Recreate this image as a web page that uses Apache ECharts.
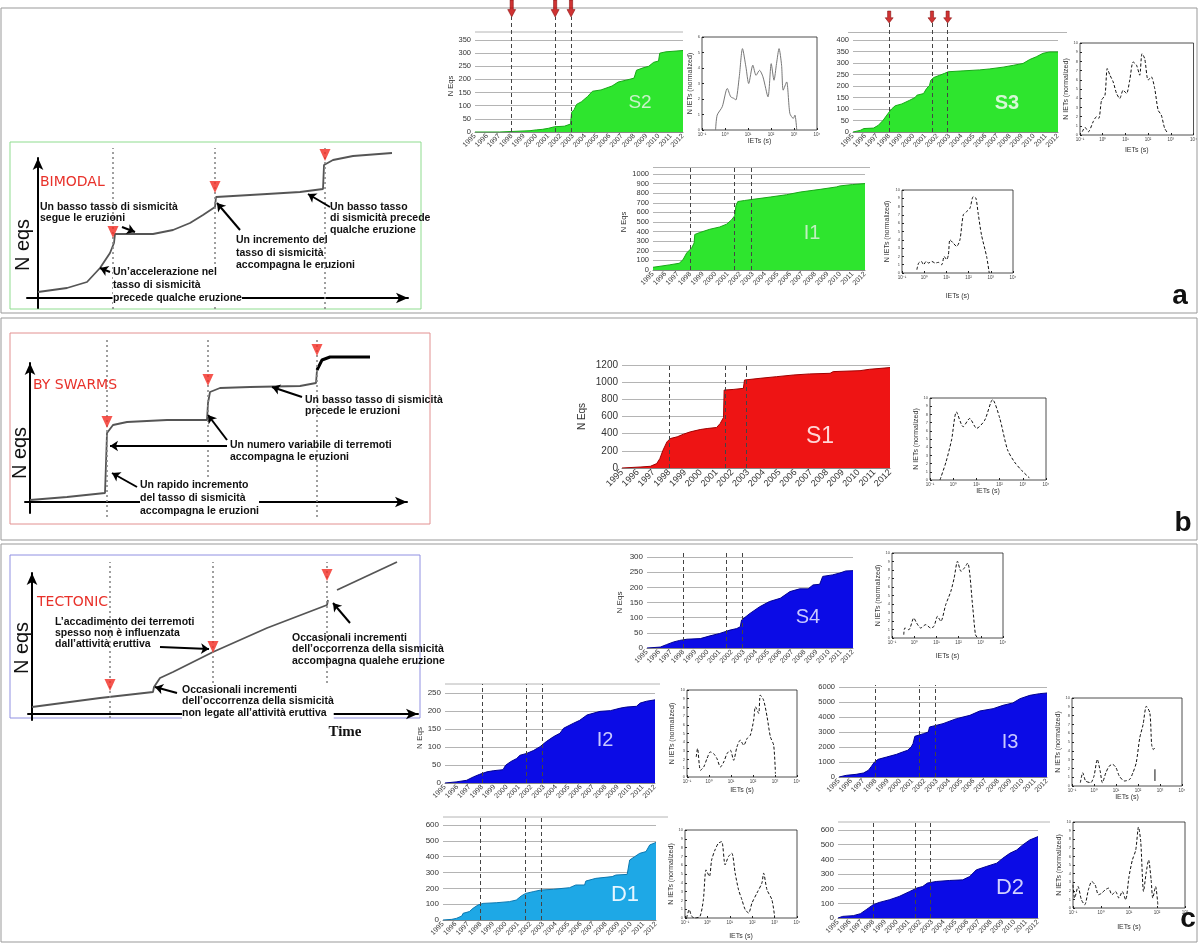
<!DOCTYPE html>
<html><head><meta charset="utf-8">
<script src="https://cdn.jsdelivr.net/npm/echarts@6/dist/echarts.min.js"></script>
<style>html,body{margin:0;padding:0;background:#fff}#c{width:1200px;height:943px}</style>
</head><body><div id="c"></div>
<script>
// ---------------- DATA ----------------
const ERUPTIONS = [1998.0, 2001.55, 2002.85];
const YEAR_MIN = 1995, YEAR_MAX = 2012;

const S2_CUM = [[1995,0],[1997,0],[1997.05,3],[1999.5,5],[2000,8],[2000.5,10],[2001,14],[2001.5,20],[2002.3,22],[2002.8,30],[2002.9,75],[2003.1,85],[2003.3,105],[2003.7,115],[2004.2,135],[2004.6,155],[2005.3,160],[2006.2,175],[2006.7,190],[2007.6,200],[2008,205],[2008.2,235],[2008.8,245],[2009.2,250],[2009.6,265],[2010,270],[2010.1,300],[2010.6,305],[2012,310]];
const S3_CUM = [[1995,0],[1995.6,7],[1995.9,15],[1996.7,17],[1997.1,29],[1997.5,51],[1997.9,80],[1998.2,100],[1998.5,114],[1999.05,122],[1999.7,138],[2000.15,150],[2000.3,160],[2000.85,167],[2001.1,189],[2001.35,203],[2001.45,225],[2001.7,237],[2002.2,247],[2002.6,255],[2002.9,262],[2004.2,266],[2005.5,270],[2006.3,274],[2007.45,282],[2008.3,290],[2009.1,298],[2009.65,315],[2010.2,327],[2010.75,342],[2011.3,348],[2012,348]];
const I1_CUM = [[1995,28],[1996.3,53],[1997.1,70],[1997.4,106],[1997.7,177],[1998.1,230],[1998.3,282],[1998.35,370],[1998.7,388],[1999.55,424],[2000.35,448],[2000.9,477],[2001.3,522],[2001.55,565],[2001.65,670],[2001.8,713],[2002.35,724],[2002.9,734],[2003.0,748],[2004.4,760],[2005.7,784],[2006.8,812],[2008.4,840],[2009.7,865],[2010,876],[2011,890],[2012,900]];
const S1_CUM = [[1995,0],[1996.2,12],[1996.8,20],[1997.2,51],[1997.4,109],[1997.6,207],[1997.85,304],[1998.06,343],[1998.5,363],[1998.9,394],[1999.33,421],[1999.96,448],[2000.4,460],[2001.0,472],[2001.23,519],[2001.44,589],[2001.48,908],[2002.1,916],[2002.7,928],[2002.77,1025],[2003.76,1045],[2004.8,1064],[2005.9,1084],[2006.9,1096],[2008.2,1103],[2008.4,1123],[2010.1,1134],[2010.7,1150],[2012,1170]];
const S4_CUM = [[1995,0],[1996.1,3],[1996.6,11],[1997.2,20],[1997.7,25],[1998.3,29],[1999.4,31],[2000.2,40],[2001.0,48],[2001.85,59],[2002.4,64],[2002.7,70],[2002.8,92],[2003.5,114],[2004.3,136],[2005.1,153],[2006.0,164],[2006.8,186],[2007.6,195],[2008.3,195],[2008.7,208],[2009.25,210],[2009.5,236],[2010.3,241],[2010.9,247],[2011.4,254],[2012,255]];
const I2_CUM = [[1995,0],[1995.9,3],[1996.75,7.5],[1997.3,17],[1997.8,24],[1998.4,31],[1998.9,34],[1999.7,37],[1999.9,49],[2000.3,59],[2000.8,68],[2001.07,77],[2001.6,82],[2002.15,90],[2002.7,101],[2003.2,115],[2003.8,129],[2004.3,138],[2004.6,152],[2005.4,166],[2005.9,174],[2006.5,189],[2007.55,199],[2008.4,201],[2009.2,208],[2009.7,211],[2010.5,213],[2010.8,222],[2011.3,227],[2012,231]];
const I3_CUM = [[1995,0],[1995.6,111],[1996.4,178],[1997,267],[1997.4,444],[1997.65,711],[1997.9,1000],[1998.2,1178],[1998.9,1333],[1999.7,1511],[2000.2,1667],[2000.6,1778],[2000.9,2000],[2001.05,2222],[2001.2,2711],[2001.9,2889],[2002.3,3000],[2002.4,3333],[2003.5,3556],[2004.6,3889],[2005.7,4111],[2006.5,4400],[2007.6,4556],[2008.4,4778],[2009.2,4933],[2009.8,5222],[2010.6,5444],[2011.4,5556],[2012,5600]];
const D1_CUM = [[1995,0],[1995.7,4],[1996.06,10],[1996.5,25],[1996.6,42],[1997.1,53],[1997.4,74],[1997.8,95],[1998.2,105],[1999.25,109],[2000.3,116],[2000.85,126],[2001.25,152],[2001.6,168],[2002.2,179],[2002.8,189],[2003.8,194],[2005.1,204],[2005.6,221],[2006.3,221],[2006.4,246],[2007.2,263],[2008.5,274],[2008.8,284],[2009.7,288],[2009.9,379],[2010.3,400],[2010.7,421],[2011.2,432],[2011.5,474],[2012,490]];
const D2_CUM = [[1995,0],[1995.4,11],[1996.3,16],[1996.9,29],[1997.4,57],[1998.0,91],[1998.5,106],[1999.4,125],[2000.2,147],[2001.1,181],[2001.7,204],[2002.2,215],[2002.6,238],[2003.35,249],[2004.5,256],[2005.6,260],[2006.2,283],[2006.75,328],[2007.6,351],[2008.5,374],[2009.0,407],[2009.6,441],[2010.2,464],[2010.7,498],[2011.3,532],[2012,555]];

// IET distributions: [log10 decade index, normalized count]
const S2_IET = [[0.59,0],[0.66,0.96],[0.88,1.5],[1.10,2.68],[1.25,2.14],[1.40,2.03],[1.47,1.93],[1.62,3.43],[1.76,5.25],[1.91,4.07],[2.03,3.0],[2.21,4.18],[2.35,3.53],[2.50,3.85],[2.65,3.43],[2.87,2.14],[3.01,4.28],[3.13,3.21],[3.24,4.28],[3.35,5.25],[3.46,4.18],[3.53,2.57],[3.68,3.1],[3.82,1.07],[3.97,0.75],[4.04,0.96],[4.12,0]];
const S3_IET = [[0.10,0.36],[0.22,0.83],[0.37,0.36],[0.58,1.44],[0.73,1.99],[0.83,1.81],[0.95,3.79],[1.10,4.33],[1.20,7.22],[1.32,6.50],[1.46,5.78],[1.61,4.51],[1.75,3.97],[1.90,4.87],[2.05,4.51],[2.19,5.96],[2.34,7.94],[2.49,7.58],[2.63,6.50],[2.73,8.84],[2.85,8.30],[3.00,5.96],[3.14,6.32],[3.29,5.05],[3.44,2.71],[3.58,2.17],[3.73,0.72],[3.87,0.18]];
const I1_IET = [[0.67,0.4],[0.75,1.2],[0.87,1.4],[0.97,1.0],[1.09,1.4],[1.19,1.2],[1.34,1.4],[1.49,1.2],[1.64,1.28],[1.79,1.0],[1.90,2.0],[2.01,1.6],[2.09,2.2],[2.16,4.0],[2.31,3.6],[2.46,3.2],[2.61,4.0],[2.76,7.0],[2.91,7.4],[3.06,7.8],[3.21,9.2],[3.33,9.0],[3.43,7.2],[3.58,4.6],[3.81,2.0],[3.93,0]];
const S1_IET = [[0.43,0],[0.69,2.2],[0.93,4.9],[1.14,8.3],[1.43,6.5],[1.71,7.5],[2.01,6.3],[2.36,7.3],[2.70,9.8],[3.0,7.6],[3.34,3.7],[3.64,2.2],[3.94,1.2],[4.29,0.24]];
const S4_IET = [[0.53,0.39],[0.58,1.18],[0.76,0.98],[0.98,2.35],[1.11,1.76],[1.29,1.18],[1.52,1.57],[1.74,1.18],[1.89,1.37],[2.05,2.55],[2.20,1.96],[2.42,3.92],[2.65,5.49],[2.80,7.06],[2.95,9.02],[3.11,7.84],[3.26,8.24],[3.41,8.82],[3.64,3.53],[3.76,0.39],[3.86,0]];
const I2_IET = [[0.42,2.31],[0.48,3.27],[0.61,0.77],[0.76,1.15],[0.91,2.12],[1.06,2.88],[1.21,2.69],[1.36,2.12],[1.52,1.15],[1.67,1.73],[1.82,2.69],[1.97,3.08],[2.12,1.92],[2.27,3.46],[2.42,4.23],[2.58,3.65],[2.73,4.42],[2.88,4.81],[3.03,6.54],[3.11,8.08],[3.26,7.31],[3.33,9.42],[3.48,8.85],[3.64,6.92],[3.79,4.62],[3.94,3.65],[4.02,0.38]];
const I3_IET = [[0.38,0.38],[0.49,1.51],[0.62,0.57],[0.85,0.38],[1.0,1.13],[1.15,3.02],[1.28,1.70],[1.38,0.38],[1.54,1.51],[1.69,2.26],[1.85,2.45],[2.0,2.08],[2.15,1.13],[2.38,0.57],[2.62,0.75],[2.77,1.51],[2.92,2.64],[3.08,5.47],[3.23,6.98],[3.38,9.06],[3.54,8.30],[3.62,4.72],[3.69,4.15],[3.77,4.34]];
const I3_IET_TAIL = [[3.77,1.9],[3.77,0.57]];
const D1_IET = [[0.07,0],[0.19,0.94],[0.30,0.19],[0.45,0],[0.67,0.19],[0.82,2.08],[0.94,5.47],[1.09,4.72],[1.19,6.60],[1.34,7.74],[1.49,8.49],[1.64,8.68],[1.79,6.04],[1.94,6.98],[2.09,7.36],[2.24,5.09],[2.39,3.21],[2.54,2.08],[2.69,0.94],[2.84,0.57],[2.99,1.70],[3.21,2.83],[3.43,3.96],[3.51,5.09],[3.66,3.21],[3.88,2.08],[4.0,0.19]];
const D2_IET = [[0,2.69],[0.06,1.15],[0.18,2.5],[0.30,0.96],[0.42,0.38],[0.55,2.12],[0.67,3.08],[0.79,2.69],[0.91,1.54],[1.03,1.73],[1.15,2.12],[1.27,2.31],[1.39,1.54],[1.52,1.92],[1.64,1.15],[1.76,1.92],[1.88,0.96],[2.0,3.65],[2.12,5.58],[2.24,6.73],[2.34,9.42],[2.42,7.69],[2.52,1.92],[2.61,4.04],[2.70,5.58],[2.79,3.27],[2.85,1.15],[2.95,2.5],[3.03,0.38]];

// Schematic curves (arbitrary time / N eqs units)
const BIMODAL_CURVE = [[0,6],[29,10],[49,16],[62,30],[72,45],[76,55],[77,64],[95,64],[115,64],[135,68],[152,75],[165,83],[177,91],[178,101],[195,102],[229,104],[262,106],[285,109],[286,133],[295,138],[315,142],[354,145]];
const BIMODAL_ERUPTIONS = [75,177,287];
const BIMODAL_MARKS = [[75,66],[177,111],[287,143]];
const BIMODAL_POINTERS = [[[84,71],[97,66]],[[72,26],[62,30]],[[202,68],[179,95]],[[292,91],[270,104]]];

const SWARMS_CURVE = [[0,2],[37,5],[75,9],[76,39],[77,69],[83,77],[97,80],[137,82],[177,82],[178,99],[180,110],[190,114],[220,115],[270,116],[286,119],[287,132],[292,142],[300,145],[340,145]];
const SWARMS_ERUPTIONS = [77,178,287];
const SWARMS_MARKS = [[77,80],[178,122],[287,152]];
const SWARMS_POINTERS = [[[272,105],[242,115]],[[197,56],[80,56]],[[197,62],[178,87]],[[107,15],[82,29]]];

const TECTONIC_CURVE = [[0,7],[68,16],[121,22],[122,27],[128,36],[141,42],[181,62],[235,86],[295,109],[296,114]];
const TECTONIC_CURVE_END = [[305,124],[365,152]];
const TECTONIC_ERUPTIONS = [78,181,295];
const TECTONIC_MARKS = [[78,29],[181,67],[295,139]];
const TECTONIC_POINTERS = [[[128,67],[177,65]],[[318,91],[301,111]],[[145,21],[123,27]]];

// ---------------- BUILD ----------------
const FONT = '"Liberation Sans", Arial, sans-serif';
const GREEN = '#2ee52e', RED = '#ee1414', BLUE = '#0b0be6', SKY = '#1ea8e6';
const SUP = ['\u207B\u00B9','\u2070','\u00B9','\u00B2','\u00B3','\u2074','\u2075'];
const ARROW_PATH = 'path://M3,0L7,0L7,9L10,9L5,16L0,9L3,9Z';

const grid=[], xAxis=[], yAxis=[], series=[], graphic=[];

function mainChart(c){
  const gi = grid.length;
  const [L,T,W,H] = c.box;
  grid.push({left:L, top:T, width:W, height:H});
  xAxis.push({gridIndex:gi, type:'value', min:YEAR_MIN, max:YEAR_MAX, interval:1,
    axisLine:{show:true, lineStyle:{color:'#888'}}, axisTick:{show:false}, splitLine:{show:false},
    axisLabel:{rotate:45, fontSize:c.xfs, color:'#333', margin:3, fontFamily:FONT, formatter:v=>String(v)}});
  yAxis.push({gridIndex:gi, type:'value', min:0, max:c.yMax, interval:c.yStep,
    axisLine:{show:false}, axisTick:{show:false},
    splitLine:{lineStyle:{color:'#b4b4b4', width:1}},
    axisLabel:{fontSize:c.yfs, color:'#333', margin:4, fontFamily:FONT, formatter:v=>String(v)},
    name:c.yName||'', nameLocation:'middle', nameGap:c.nameGap||20,
    nameTextStyle:{fontSize:c.yfs, color:'#333', fontFamily:FONT}});
  series.push({type:'line', xAxisIndex:gi, yAxisIndex:gi, data:c.data, symbol:'none', silent:true,
    lineStyle:{color:c.edge, width:1}, areaStyle:{color:c.color, opacity:1}, z:3, animation:false});
  const oi = grid.length;
  const bottom = T+H;
  const as = c.arrow || [0,0];
  grid.push({left:L, top:c.dashTop, width:W, height:bottom-c.dashTop});
  xAxis.push({gridIndex:oi, type:'value', min:YEAR_MIN, max:YEAR_MAX, show:false});
  yAxis.push({gridIndex:oi, type:'value', min:0, max:1, show:false});
  series.push({type:'scatter', xAxisIndex:oi, yAxisIndex:oi, data:ERUPTIONS.map(e=>[e,1]),
    symbol:ARROW_PATH, symbolSize:as, symbolOffset:[0,-as[1]/2], clip:false, silent:true,
    itemStyle:{color:'#c40000', borderColor:'#7a0000', borderWidth:0.6}, z:6, animation:false,
    markLine:{silent:true, symbol:['none','none'], label:{show:false}, animation:false,
      lineStyle:{type:[4,3], color:'#444', width:1}, data:ERUPTIONS.map(e=>({xAxis:e}))}});
  if (c.frame) graphic.push({type:'line', z:1, shape:{x1:c.frame[0], y1:c.frame[2], x2:c.frame[1], y2:c.frame[2]}, style:{stroke:'#b4b4b4', lineWidth:1}});
  graphic.push({type:'text', z:10, x:c.tx, y:c.ty, style:{text:c.label, fill:c.tc, align:'center', verticalAlign:'middle',
    font:(c.bold?'bold ':'')+c.tfs+'px '+FONT}});
}

function inset(c){
  const gi = grid.length;
  const [L,T,W,H] = c.box;
  grid.push({left:L, top:T, width:W, height:H, show:true, borderColor:'#222', borderWidth:0.8, backgroundColor:'#fff'});
  xAxis.push({gridIndex:gi, type:'value', min:0, max:c.xMax, interval:1,
    axisLine:{show:false}, axisTick:{inside:true, length:2, lineStyle:{color:'#222'}}, splitLine:{show:false},
    axisLabel:{fontSize:4.5, color:'#444', margin:2, fontFamily:FONT, formatter:v=>'10'+(SUP[v]||'')},
    name:'IETs (s)', nameLocation:'middle', nameGap:c.xg, nameTextStyle:{fontSize:7, color:'#333', fontFamily:FONT}});
  yAxis.push({gridIndex:gi, type:'value', min:0, max:c.yMax, interval:1,
    axisLine:{show:false}, axisTick:{inside:true, length:2, lineStyle:{color:'#222'}}, splitLine:{show:false},
    axisLabel:{fontSize:4, color:'#444', margin:2, fontFamily:FONT},
    name:'N IETs (normalized)', nameLocation:'middle', nameGap:c.yg, nameTextStyle:{fontSize:7, color:'#333', fontFamily:FONT}});
  series.push({type:'line', xAxisIndex:gi, yAxisIndex:gi, data:c.data, symbol:'none', smooth:0.25, silent:true, animation:false,
    lineStyle:{color:c.solid?'#777':'#111', width:1, type:c.solid?'solid':[3,2]}, z:4});
  if (c.tail) series.push({type:'line', xAxisIndex:gi, yAxisIndex:gi, data:c.tail, symbol:'none', silent:true, animation:false,
    lineStyle:{color:'#111', width:1}, z:4});
}

function schematic(s){
  const gi = grid.length;
  const [L,T,W,H] = s.box;
  grid.push({left:L, top:T, width:W, height:H});
  const axisLine = {show:true, onZero:true, symbol:['none','arrow'], symbolSize:[8,12], lineStyle:{color:'#000', width:2}};
  xAxis.push({gridIndex:gi, type:'value', min:s.xr[0], max:s.xr[1], axisLine:axisLine, axisLabel:{show:false}, axisTick:{show:false}, splitLine:{show:false}});
  yAxis.push({gridIndex:gi, type:'value', min:s.yr[0], max:s.yr[1], axisLine:axisLine, axisLabel:{show:false}, axisTick:{show:false}, splitLine:{show:false}});
  s.curves.forEach(cv=>series.push({type:'line', xAxisIndex:gi, yAxisIndex:gi, data:cv.data, symbol:'none', clip:false, silent:true, animation:false,
    lineStyle:{color:cv.color||'#555', width:cv.width||1.8}, z:4}));
  series.push({type:'scatter', xAxisIndex:gi, yAxisIndex:gi, data:s.marks, symbol:'triangle', symbolRotate:180, symbolSize:[11,12],
    itemStyle:{color:'#f22a22'}, clip:false, silent:true, z:5, animation:false});
  series.push({type:'lines', coordinateSystem:'cartesian2d', xAxisIndex:gi, yAxisIndex:gi, silent:true, animation:false,
    data:s.pointers.map(p=>({coords:p})), symbol:['none','arrow'], symbolSize:8, lineStyle:{color:'#000', width:2, opacity:1}, z:6});
  const oi = grid.length;
  grid.push({left:L, top:s.dot[0], width:W, height:s.dot[1]-s.dot[0]});
  xAxis.push({gridIndex:oi, type:'value', min:s.xr[0], max:s.xr[1], show:false});
  yAxis.push({gridIndex:oi, type:'value', min:0, max:1, show:false});
  series.push({type:'scatter', xAxisIndex:oi, yAxisIndex:oi, data:s.eruptions.map(e=>[e,0]), symbolSize:0, silent:true, animation:false,
    markLine:{silent:true, symbol:['none','none'], label:{show:false}, animation:false,
      lineStyle:{type:[2,3], color:'#888', width:1.6}, data:s.eruptions.map(e=>({xAxis:e}))}});
}

// Panel frames
[[1,8,1196,305],[1,318,1196,222],[1,544,1196,398]].forEach(r=>graphic.push({type:'rect', z:0, shape:{x:r[0],y:r[1],width:r[2],height:r[3]}, style:{fill:'none', stroke:'#999', lineWidth:1}}));
[[10,142,411,167,'#8fdc8f'],[10,333,420,191,'#e29090'],[10,555,410,163,'#9090e2']].forEach(r=>graphic.push({type:'rect', z:0, shape:{x:r[0],y:r[1],width:r[2],height:r[3]}, style:{fill:'none', stroke:r[4], lineWidth:1}}));

// Main cumulative charts
mainChart({data:S2_CUM, color:GREEN, edge:'#18a818', box:[475,40,208,92], yMax:350, yStep:50, xfs:7, yfs:7.5, yName:'N Eqs', nameGap:19, dashTop:17, arrow:[8,17], frame:[475,683,32], label:'S2', tx:640, ty:103, tfs:19, tc:'#c8f3c8'});
mainChart({data:S3_CUM, color:GREEN, edge:'#18a818', box:[853,40,205,92], yMax:400, yStep:50, xfs:7, yfs:7.5, dashTop:23, arrow:[8,12], frame:[848,1067,32.5], label:'S3', tx:1007, ty:103, tfs:20, bold:true, tc:'#d6f8d6'});
mainChart({data:I1_CUM, color:GREEN, edge:'#18a818', box:[653,174,212,96], yMax:1000, yStep:100, xfs:7, yfs:7.5, yName:'N Eqs', nameGap:19, dashTop:168, frame:[653,870,167.5], label:'I1', tx:812, ty:233, tfs:20, tc:'#c0f0c0'});
mainChart({data:S1_CUM, color:RED, edge:'#a00000', box:[622,365,268,103], yMax:1200, yStep:200, xfs:9, yfs:10, yName:'N Eqs', nameGap:35, dashTop:363, label:'S1', tx:820, ty:437, tfs:23, tc:'#ffd6d6'});
mainChart({data:S4_CUM, color:BLUE, edge:'#000090', box:[647,557,206,91], yMax:300, yStep:50, xfs:7, yfs:8, yName:'N Eqs', nameGap:23, dashTop:550, label:'S4', tx:808, ty:617, tfs:20, tc:'#c8c8ff'});
mainChart({data:I2_CUM, color:BLUE, edge:'#000090', box:[445,693,210,90], yMax:250, yStep:50, xfs:7, yfs:8, yName:'N Eqs', nameGap:14, dashTop:684, frame:[445,660,684], label:'I2', tx:605, ty:740, tfs:20, tc:'#c8c8ff'});
mainChart({data:I3_CUM, color:BLUE, edge:'#000090', box:[839,687,208,90], yMax:6000, yStep:1000, xfs:7, yfs:7.5, dashTop:685, label:'I3', tx:1010, ty:742, tfs:20, tc:'#c8c8ff'});
mainChart({data:D1_CUM, color:SKY, edge:'#0c78b0', box:[443,825,213,95], yMax:600, yStep:100, xfs:7, yfs:8, dashTop:817, frame:[443,668,817], label:'D1', tx:625, ty:895, tfs:22, tc:'#e6f6ff'});
mainChart({data:D2_CUM, color:BLUE, edge:'#000090', box:[838,830,200,88], yMax:600, yStep:100, xfs:7, yfs:8, dashTop:822, frame:[838,1050,822], label:'D2', tx:1010, ty:888, tfs:22, tc:'#d0d0ff'});

// Insets
inset({data:S2_IET, solid:true, box:[702,37,115,93], xMax:5, yMax:6, xg:4, yg:3});
inset({data:S3_IET, box:[1080,43,115,92], xMax:5, yMax:10, xg:12, yg:7});
inset({data:I1_IET, box:[902,190,111,83], xMax:5, yMax:10, xg:20, yg:11});
inset({data:S1_IET, box:[930,398,116,82], xMax:5, yMax:10, xg:6, yg:8});
inset({data:S4_IET, box:[892,553,111,85], xMax:5, yMax:10, xg:15, yg:8});
inset({data:I2_IET, box:[687,690,110,87], xMax:5, yMax:10, xg:10, yg:11});
inset({data:I3_IET, tail:I3_IET_TAIL, box:[1072,698,110,88], xMax:5, yMax:10, xg:6, yg:5});
inset({data:D1_IET, box:[685,830,112,88], xMax:5, yMax:10, xg:15, yg:5});
inset({data:D2_IET, box:[1073,822,112,86], xMax:4, yMax:10, xg:16, yg:6});

// Schematics
schematic({box:[27,158,381,150], xr:[-11,370], yr:[-10,140], dot:[148,309],
  curves:[{data:BIMODAL_CURVE}], marks:BIMODAL_MARKS, pointers:BIMODAL_POINTERS, eruptions:BIMODAL_ERUPTIONS});
schematic({box:[25,363,382,150], xr:[-5,377], yr:[-11,139], dot:[338,517],
  curves:[{data:SWARMS_CURVE},{data:SWARMS_CURVE.slice(-4), color:'#000', width:3}], marks:SWARMS_MARKS, pointers:SWARMS_POINTERS, eruptions:SWARMS_ERUPTIONS});
schematic({box:[28,573,390,147], xr:[-4,386], yr:[-6,141], dot:[562,718],
  curves:[{data:TECTONIC_CURVE},{data:TECTONIC_CURVE_END}], marks:TECTONIC_MARKS, pointers:TECTONIC_POINTERS, eruptions:TECTONIC_ERUPTIONS});

// Schematic texts
const TB = 'bold 10.5px '+FONT;
function txt(x,y,t,opts){ graphic.push(Object.assign({type:'text', z:20, x:x, y:y, style:Object.assign({text:t, font:TB, fill:'#111', align:'left', verticalAlign:'top'}, opts||{})})); }
function red(x,y,t){ graphic.push({type:'text', z:20, x:x, y:y, style:{text:t, font:'14px "DejaVu Sans", sans-serif', fill:'#e8312a', align:'left', verticalAlign:'middle'}}); }
function neqs(x,y){ graphic.push({type:'text', z:20, x:x, y:y, rotation:Math.PI/2, style:{text:'N eqs', font:'20px '+FONT, fill:'#111', align:'center', verticalAlign:'middle'}}); }

red(40,182,'BIMODAL'); neqs(23,245);
txt(40,201,'Un basso tasso di sismicità\nsegue le eruzioni',{lineHeight:11.7});
txt(113,265,'Un\u2019accelerazione nel\ntasso di sismicità\nprecede qualche eruzione',{lineHeight:13.3, backgroundColor:'#fff'});
txt(236,234,'Un incremento del\ntasso di sismicità\naccompagna le eruzioni',{lineHeight:12.5});
txt(330,201,'Un basso tasso\ndi sismicità precede\nqualche eruzione',{lineHeight:11.7});

red(33,385,'BY SWARMS'); neqs(20,453);
txt(305,394,'Un basso tasso di sismicità\nprecede le eruzioni',{lineHeight:11.7});
txt(230,439,'Un numero variabile di terremoti\naccompagna le eruzioni',{lineHeight:12.3});
txt(140,478,'Un rapido incremento\ndel tasso di sismicità\naccompagna le eruzioni',{lineHeight:13.3, backgroundColor:'#fff'});

red(37,602,'TECTONIC'); neqs(22,648);
txt(55,617,'L\u2019accadimento dei terremoti\nspesso non è influenzata\ndall\u2019attività eruttiva',{lineHeight:11});
txt(292,632,'Occasionali incrementi\ndell\u2019occorrenza della sismicità\naccompagna qualehe eruzione',{lineHeight:11.5});
txt(182,684,'Occasionali incrementi\ndell\u2019occorrenza della sismicità\nnon legate all\u2019attività eruttiva',{lineHeight:11.7, backgroundColor:'#fff'});
graphic.push({type:'text', z:20, x:345, y:732, style:{text:'Time', font:'bold 15px "Liberation Serif", serif', fill:'#111', align:'center', verticalAlign:'middle'}});

// Panel letters
[['a',1180,296],['b',1183,523],['c',1188,919]].forEach(p=>graphic.push({type:'text', z:20, x:p[1], y:p[2], style:{text:p[0], font:'bold 28px '+FONT, fill:'#111', align:'center', verticalAlign:'middle'}}));

const chart = echarts.init(document.getElementById('c'));
chart.setOption({backgroundColor:'#fff', animation:false, grid, xAxis, yAxis, series, graphic});
</script></body></html>
